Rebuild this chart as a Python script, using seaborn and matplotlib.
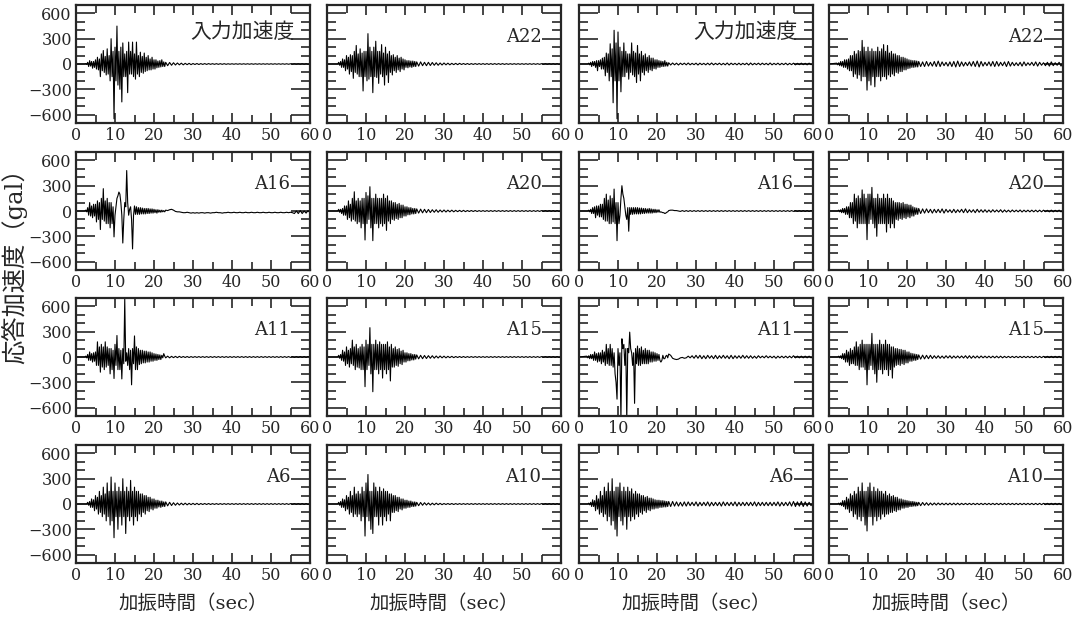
import numpy as np
import pandas as pd
import matplotlib
matplotlib.use("Agg")
import matplotlib.pyplot as plt
import seaborn as sns
from matplotlib.ticker import MultipleLocator

# ---------------- data (acceleration readings, gal) ----------------
# strong part: every 0.25 s from 2.0 s to 22.75 s (one row of 4 values per second)
# tail part  : every 0.5 s from 23 s to 60 s
pre_event_level = 0.0   # quiet record from 0 s to 2 s

in_c1_s = [0,0,5,-5, 20,-30,40,-25, 30,-50,30,-40, 50,-60,80,-70, 60,-150,120,-80,
           160,-100,90,-130, 180,-120,100,-200, 300,-150,150,-650, 200,-200,450,-250,
           150,-300,200,-450, 250,-150,120,-150, 150,-340,260,-120, 150,-120,260,-150,
           120,-180,260,-120, 100,-150,140,-100, 90,-110,130,-90, 80,-80,100,-70,
           60,-70,80,-60, 50,-60,50,-45, 35,-40,40,-35, 50,-30,25,-30]
in_c1_t = [20,-20,18,-15,15,-12,12,-10,10,-10,8,-8,8,-8,6,-6,6,-6,5,-5,
           5,-5,5,-4,4,-4,4,-4,4,-4,4,-4,3,-3,3,-3,3,-3,3,-3,
           3,-3,3,-3,3,-3,3,-3,3,-3,3,-3,3,-3,3,-3,3,-3,3,-3,
           3,-3,3,-3,3,-3,3,-3,3,-3,3,-3,3,-3,3]

a22_c2_s = [0,0,0,0, 20,-15,30,-40, 60,-40,50,-80, 100,-60,80,-120, 110,-90,100,-170,
            150,-100,220,-120, 120,-150,180,-150, 130,-320,150,-150, 150,-200,360,-180,
            200,-150,150,-340, 200,-150,270,-160, 150,-230,150,-120, 230,-150,130,-250,
            200,-130,120,-220, 150,-100,100,-130, 110,-80,80,-100, 100,-70,70,-90,
            80,-60,60,-70, 50,-40,40,-45, 40,-35,35,-40, 35,-30,30,-30]
a22_c2_t = [25,-25,25,-20,20,-20,20,-18,18,-15,15,-15,12,-12,12,-10,10,-10,8,-8,
            8,-8,8,-6,6,-6,6,-6,5,-5,5,-5,5,-5,5,-5,5,-5,5,-5,
            5,-5,5,-5,5,-5,4,-4,4,-4,4,-4,4,-4,4,-4,4,-4,4,-4,
            4,-4,4,-4,4,-4,4,-4,4,-4,4,-4,4,-4,4]

in_c3_s = [0,0,10,-10, 20,-30,30,-20, 30,-40,40,-80, 40,-30,50,-60, 70,-60,80,-140,
           130,-100,120,-200, 240,-150,180,-460, 400,-200,250,-650, 380,-200,200,-330,
           150,-150,250,-150, 150,-100,120,-180, 120,-100,250,-130, 150,-150,130,-220,
           220,-120,120,-200, 150,-100,100,-130, 120,-80,80,-100, 100,-70,70,-80,
           70,-55,50,-60, 50,-40,40,-40, 35,-30,30,-30, 40,-25,20,-25]
in_c3_t = [15,-12,12,-10,10,-12,10,-8,10,-10,12,-10,8,-8,10,-12,10,-8,8,-10,
           10,-10,12,-10,8,-8,10,-10,8,-10,12,-12,10,-8,8,-10,10,-10,8,-8,
           10,-12,12,-10,8,-8,10,-10,10,-8,8,-10,12,-10,8,-8,10,-10,8,-8,
           10,-10,8,-8,10,-10,8,-8,10,-8,8,-10,10,-8,8]

a22_c4_s = [10,-10,15,-20, 30,-25,30,-40, 50,-40,50,-60, 60,-80,100,-80, 100,-150,150,-120,
            120,-170,160,-130, 150,-200,280,-150, 200,-150,150,-310, 200,-200,150,-250,
            180,-150,150,-270, 150,-150,200,-150, 150,-200,180,-150, 230,-150,150,-180,
            220,-130,130,-150, 150,-120,120,-140, 120,-100,100,-110, 100,-90,80,-90,
            80,-70,70,-70, 60,-55,50,-50, 45,-40,40,-40, 40,-35,35,-35]
a22_c4_t = [30,-30,25,-30,30,-25,20,-25,30,-30,35,-30,25,-20,20,-25,25,-30,30,-35,
            35,-30,25,-25,20,-20,25,-25,30,-30,35,-35,30,-25,20,-20,25,-25,30,-30,
            30,-25,20,-20,25,-30,30,-25,20,-20,15,-20,20,-25,25,-20,15,-15,20,-20,
            25,-25,20,-15,15,-20,20,-25,25,-20,15,-15,20,-25,25]

a16_c1_s = [0,0,10,-10, 40,-50,100,-60, 60,-80,80,-60, 80,-130,120,-100, 100,-220,150,-100,
            265,-120,120,-150, 150,-150,100,-200, 100,-150,50,-307, -50,50,150,180,
            225,200,100,-50, -380,-100,100,50, 480,100,-50,20, 50,-100,-450,-50,
            60,-40,50,-40, 40,-40,40,-35, 35,-35,30,-35, 30,-30,30,-30,
            25,-25,25,-25, 20,-20,15,-25, 15,-15,10,-15, 10,-10,5,-10]
a16_c1_t = [10,5,15,20,10,-5,-10,-10,-15,-20,-20,-15,-20,-25,-20,-25,-20,-25,-20,-20,
            -25,-20,-20,-25,-20,-20,-15,-20,-20,-25,-20,-20,-15,-20,-20,-15,-20,-20,-15,-20,
            -20,-15,-20,-20,-15,-20,-20,-15,-20,-20,-15,-20,-20,-15,-20,-20,-15,-20,-20,-15,
            -20,-20,-15,-20,-15,-20,-30,0,-30,5,-30,0,-25,5,-20]

a20_c2_s = [0,0,0,0, 20,-15,20,-30, 30,-50,60,-50, 60,-100,120,-80, 80,-120,150,-100,
            228,-120,120,-150, 150,-130,120,-200, 150,-150,150,-344, 220,-150,180,-100,
            288,-200,150,-352, 150,-150,200,-150, 150,-200,150,-150, 150,-180,200,-150,
            150,-230,180,-120, 120,-150,120,-100, 100,-110,100,-90, 80,-100,90,-80,
            70,-80,70,-60, 50,-60,50,-45, 40,-45,40,-35, 30,-35,30,-30]
a20_c2_t = [25,-25,22,-22,20,-20,18,-18,15,-15,15,-15,12,-12,12,-12,10,-10,10,-10,
            8,-8,8,-8,8,-8,6,-6,6,-6,6,-6,5,-5,5,-5,5,-5,5,-5,
            5,-5,5,-5,5,-5,5,-5,5,-5,5,-5,5,-5,5,-5,5,-5,5,-5,
            5,-5,5,-5,5,-5,5,-5,5,-5,5,-5,5,-5,5]

a16_c3_s = [0,0,10,-10, 20,-30,40,-30, 50,-80,60,-50, 60,-70,80,-70, 80,-100,150,-120,
            200,-120,130,-150, 180,-150,150,-130, 260,-150,100,-352, 100,-150,-50,150,
            300,200,150,50, -50,-100,40,-240, 40,-40,40,-40, 40,-35,40,-35,
            40,-35,35,-35, 35,-30,30,-30, 30,-25,25,-25, 30,-25,25,-25,
            20,-20,20,-20, 15,-15,15,-15, -10,-15,-20,-20, -30,-25,-15,-10]
a16_c3_t = [5,10,10,5,5,0,-5,5,-5,5,-5,5,-5,5,-5,5,-5,5,-5,5,
            -5,5,-5,5,-5,5,-5,5,-5,5,-5,5,-5,5,-5,5,-5,5,-5,5,
            -5,5,-5,5,-5,5,-5,5,-5,5,-5,5,-5,5,-5,5,-5,5,-5,5,
            -5,5,-5,5,-5,5,-5,5,-5,5,-5,5,-5,5,-5]

a20_c4_s = [0,0,10,-10, 15,-20,30,-20, 30,-40,50,-40, 50,-80,100,-80, 100,-150,200,-120,
            150,-200,180,-150, 150,-150,250,-150, 200,-150,150,-340, 200,-150,200,-100,
            280,-150,150,-200, 150,-300,200,-150, 150,-150,150,-150, 200,-150,150,-250,
            200,-150,150,-200, 150,-150,120,-200, 100,-100,100,-110, 100,-90,90,-100,
            100,-80,80,-90, 80,-70,70,-80, 70,-60,50,-60, 40,-40,35,-40]
a20_c4_t = [30,-30,25,-25,25,-20,20,-25,20,-20,20,-20,25,-25,20,-15,15,-20,20,-20,
            15,-15,20,-20,25,-20,15,-15,15,-20,20,-15,15,-15,15,-15,12,-15,15,-12,
            12,-12,15,-15,12,-12,10,-12,12,-10,10,-10,12,-12,10,-10,10,-10,10,-10,
            10,-10,10,-10,10,-8,8,-10,10,-10,8,-8,10,-10,10]

a11_c1_s = [0,0,10,-10, 30,-40,60,-40, 40,-60,50,-50, 60,-100,180,-100, 120,-180,150,-120,
            120,-150,180,-120, 120,-100,100,-200, 100,-150,80,-255, 150,-100,255,-150,
            100,-150,80,-260, 100,-80,690,-50, 50,-100,100,-150, 80,-330,100,-80,
            250,-150,120,-150, 100,-90,80,-80, 80,-70,70,-70, 70,-60,60,-60,
            60,-50,50,-50, 40,-40,35,-40, 30,-30,25,-30, 20,-10,40,10]
a11_c1_t = [-10,10,-10,8,-8,8,-8,8,-6,6,-6,6,-6,5,-5,5,-5,5,-5,5,
            -5,5,-5,5,-5,5,-5,5,-5,5,-5,5,-5,5,-5,5,-5,5,-5,5,
            -5,5,-5,5,-5,5,-5,5,-5,5,-5,5,-5,5,-5,5,-5,5,-5,5,
            -5,5,-5,5,-5,5,-5,5,-5,5,-5,5,-5,5,-5]

a15_c2_s = [0,0,0,0, 20,-15,30,-40, 80,-50,60,-100, 120,-80,80,-120, 100,-80,200,-100,
            120,-150,150,-120, 100,-130,120,-150, 150,-150,120,-352, 200,-150,150,-100,
            348,-200,150,-412, 150,-150,200,-150, 150,-200,180,-150, 150,-250,150,-150,
            150,-200,180,-150, 120,-284,150,-120, 100,-120,120,-100, 90,-110,100,-80,
            70,-90,80,-60, 50,-60,50,-45, 40,-45,40,-35, 30,-35,30,-25]
a15_c2_t = [25,-22,20,-20,18,-18,16,-15,15,-14,12,-12,12,-10,10,-10,8,-8,8,-8,
            6,-6,6,-6,6,-6,5,-5,5,-5,5,-5,5,-5,5,-5,5,-5,5,-5,
            5,-5,5,-5,5,-5,5,-5,5,-5,5,-5,5,-5,5,-5,5,-5,5,-5,
            5,-5,5,-5,5,-5,5,-5,5,-5,5,-5,5,-5,5]

a11_c3_s = [10,-10,15,-20, 30,-20,30,-40, 60,-40,40,-60, 50,-50,50,-80, 80,-60,60,-100,
            150,-80,100,-100, 150,-100,100,-120, 50,-200,-300,-500, 100,-100,50,-750,
            216,100,150,-100, 100,-750,100,50, 295,100,50,-100, 50,-550,100,-80,
            130,-100,100,-100, 120,-80,80,-80, 100,-80,80,-80, 80,-60,60,-60,
            60,-50,50,-50, 40,-40,30,-40, -60,-40,20,-20, -20,10,20,-10]
a11_c3_t = [35,20,-15,-25,-30,-25,-10,-5,-15,-10,10,-10,
            15,-15,20,-15,20,-20,15,-20,20,-15, 15,-20,20,-20,15,-15,20,-15,15,-20,
            20,-20,15,-15,15,-15,20,-15,15,-15, 15,-15,10,-15,15,-10,10,-10,15,-10,
            10,-10,10,-15,10,-10,10,-10,10,-10, 10,-10,15,-10,10,-10,10,-10,10,-10,
            10,-10,5]

a15_c4_s = [0,0,10,-10, 15,-20,40,-30, 40,-60,80,-60, 60,-100,100,-80, 80,-80,120,-100,
            180,-100,120,-150, 150,-120,200,-120, 150,-150,150,-330, 150,-150,150,-100,
            280,-150,150,-200, 150,-300,150,-150, 200,-150,150,-200, 150,-150,200,-150,
            150,-220,150,-150, 120,-250,120,-120, 100,-100,100,-90, 90,-100,90,-80,
            80,-90,80,-70, 60,-70,60,-50, 45,-50,40,-40, 35,-40,30,-30]
a15_c4_t = [25,-25,22,-22,20,-20,20,-18,15,-15,15,-15,12,-15,15,-12,15,-15,12,-12,
            12,-12,12,-12,15,-15,15,-15,12,-12,12,-12,12,-10,10,-10,10,-10,10,-10,
            10,-10,10,-10,8,-8,8,-8,8,-8,8,-8,8,-8,8,-8,8,-8,8,-8,
            8,-8,8,-8,8,-8,8,-8,8,-8,8,-8,8,-8,8]

a6_c1_s = [0,0,0,0, 20,-15,30,-40, 60,-40,50,-80, 100,-60,80,-120, 150,-100,100,-150,
           200,-120,120,-200, 250,-150,150,-250, 320,-200,150,-400, 250,-150,150,-300,
           200,-150,150,-250, 300,-150,150,-350, 200,-150,150,-200, 280,-150,150,-250,
           200,-150,150,-200, 150,-120,120,-150, 120,-100,100,-120, 100,-80,80,-90,
           80,-60,60,-70, 60,-50,45,-50, 45,-35,35,-40, 35,-30,25,-30]
a6_c1_t = [25,-22,20,-18,15,-15,12,-12,10,-10,10,-10,8,-8,8,-8,8,-8,6,-6,
           6,-6,6,-6,5,-5,5,-5,5,-5,5,-5,5,-5,5,-5,5,-5,5,-5,
           5,-5,5,-5,5,-5,5,-5,5,-5,5,-5,5,-5,5,-5,5,-5,5,-5,
           5,-5,5,-5,5,-5,5,-5,5,-5,5,-5,5,-5,5]

a10_c2_s = [0,0,0,0, 20,-15,30,-40, 60,-40,50,-80, 100,-60,80,-120, 150,-100,100,-150,
            200,-120,120,-150, 150,-120,120,-200, 200,-150,150,-380, 250,-150,350,-200,
            150,-300,150,-350, 250,-150,200,-150, 150,-250,200,-150, 150,-250,180,-150,
            150,-200,150,-120, 120,-200,120,-100, 100,-100,100,-80, 80,-90,80,-60,
            60,-70,60,-50, 45,-50,45,-40, 35,-40,35,-30, 25,-30,25,-25]
a10_c2_t = [20,-20,18,-15,15,-12,12,-12,10,-10,10,-8,8,-8,6,-6,6,-6,6,-6,
            5,-5,5,-5,5,-5,5,-5,5,-5,5,-5,5,-5,5,-5,5,-5,5,-5,
            5,-5,5,-5,5,-5,5,-5,5,-5,5,-5,5,-5,5,-5,5,-5,5,-5,
            5,-5,5,-5,5,-5,5,-5,5,-5,5,-5,5,-5,5]

a6_c3_s = [0,0,10,-10, 20,-30,50,-30, 40,-80,100,-60, 60,-120,150,-100, 100,-150,200,-120,
           150,-200,250,-150, 150,-250,300,-200, 150,-300,200,-380, 200,-150,250,-200,
           150,-250,200,-150, 150,-300,200,-150, 150,-200,180,-150, 120,-180,150,-120,
           120,-150,120,-100, 100,-120,100,-80, 80,-100,90,-70, 70,-80,70,-60,
           60,-60,50,-50, 45,-50,45,-40, 40,-40,40,-35, 35,-35,30,-30]
a6_c3_t = [30,-30,30,-25,25,-25,20,-25,25,-25,25,-20,20,-20,25,-25,20,-20,20,-20,
           25,-25,20,-20,20,-20,20,-25,25,-20,20,-20,20,-20,25,-25,20,-20,20,-20,
           20,-20,20,-20,25,-25,20,-20,20,-20,20,-20,20,-20,20,-20,25,-25,20,-20,
           20,-20,25,-25,30,-30,25,-25,30,-30,25,-25,20,-20,20]

a10_c4_s = [0,0,10,-10, 15,-20,40,-30, 40,-60,80,-60, 60,-100,120,-80, 100,-150,150,-120,
            120,-180,200,-150, 150,-200,250,-150, 150,-250,150,-320, 200,-150,250,-150,
            150,-250,200,-150, 150,-200,180,-150, 150,-180,150,-120, 120,-150,150,-120,
            100,-120,120,-100, 90,-100,100,-80, 80,-90,80,-70, 60,-70,60,-50,
            50,-50,45,-40, 40,-40,35,-30, 30,-30,30,-25, 25,-25,20,-20]
a10_c4_t = [20,-20,18,-15,15,-15,12,-12,12,-12,12,-10,10,-10,10,-10,10,-10,10,-10,
            10,-10,8,-8,8,-8,8,-8,8,-8,8,-8,8,-8,8,-8,8,-8,8,-8,
            8,-8,8,-8,8,-8,8,-8,8,-8,8,-8,8,-8,8,-8,8,-8,8,-8,
            8,-8,8,-8,8,-8,8,-8,8,-8,8,-8,8,-8,8]

strong = [[in_c1_s, a22_c2_s, in_c3_s, a22_c4_s],
          [a16_c1_s, a20_c2_s, a16_c3_s, a20_c4_s],
          [a11_c1_s, a15_c2_s, a11_c3_s, a15_c4_s],
          [a6_c1_s, a10_c2_s, a6_c3_s, a10_c4_s]]
tails = [[in_c1_t, a22_c2_t, in_c3_t, a22_c4_t],
         [a16_c1_t, a20_c2_t, a16_c3_t, a20_c4_t],
         [a11_c1_t, a15_c2_t, a11_c3_t, a15_c4_t],
         [a6_c1_t, a10_c2_t, a6_c3_t, a10_c4_t]]
panel_labels = [["入力加速度", "A22", "入力加速度", "A22"],
                ["A16", "A20", "A16", "A20"],
                ["A11", "A15", "A11", "A15"],
                ["A6", "A10", "A6", "A10"]]
x_ticks = [0, 10, 20, 30, 40, 50, 60]
y_ticks = [-600, -300, 0, 300, 600]
x_label = "加振時間（sec）"
y_label = "応答加速度（gal）"

# ---------------- figure ----------------
sns.set_style("ticks")
plt.rcParams['font.family'] = ['DejaVu Serif', 'Noto Sans CJK JP']
plt.rcParams['axes.unicode_minus'] = True

W, H = 1086, 623
fig = plt.figure(figsize=(W / 100, H / 100), dpi=100)
col_left = [76, 327, 579, 829]
row_top = [5, 152, 298, 445]
pw, ph = 234, 118
jp = ['DejaVu Serif', 'Noto Sans CJK JP']

for r in range(4):
    for c in range(4):
        ax = fig.add_axes([col_left[c] / W, 1 - (row_top[r] + ph) / H, pw / W, ph / H])
        s = np.array(strong[r][c], dtype=float)
        tl = np.array(tails[r][c], dtype=float)
        t = np.r_[0.0, 2.0 + 0.25 * np.arange(len(s)), 23.0 + 0.5 * np.arange(len(tl))]
        v = np.r_[pre_event_level, s, tl]
        df = pd.DataFrame({"t": t, "a": v})
        sns.lineplot(data=df, x="t", y="a", ax=ax, color="black", linewidth=0.8,
                     estimator=None, sort=False, errorbar=None)
        ax.set_xlim(0, 60)
        ax.set_ylim(-700, 700)
        ax.set_xticks(x_ticks)
        ax.xaxis.set_minor_locator(MultipleLocator(5))
        ax.set_yticks(y_ticks)
        ax.yaxis.set_minor_locator(MultipleLocator(100))
        ax.tick_params(which='both', direction='in', top=True, right=True, width=1.2,
                       labelsize=11.5, pad=3)
        ax.tick_params(axis='x', which='major', length=7.5)
        ax.tick_params(axis='x', which='minor', length=5.5)
        ax.tick_params(axis='y', which='major', length=14)
        ax.tick_params(axis='y', which='minor', length=6.5)
        for sp in ax.spines.values():
            sp.set_linewidth(1.6)
        if c != 0:
            ax.set_yticklabels([])
        ax.set_ylabel("")
        if r == 3:
            ax.set_xlabel(x_label, fontsize=14, family=jp, labelpad=7)
        else:
            ax.set_xlabel("")
        lab = panel_labels[r][c]
        if lab == "入力加速度":
            ax.text(56, 380, lab, ha='right', va='center', fontsize=15,
                    family=['Noto Sans CJK JP', 'DejaVu Serif'])
        else:
            ax.text(55, 320, lab, ha='right', va='center', fontsize=13, family=jp)

fig.text(14 / W, 1 - 260 / H, y_label, rotation=90, ha='center', va='center',
         fontsize=17.5, family=jp)

fig.savefig("out.png", dpi=100)
